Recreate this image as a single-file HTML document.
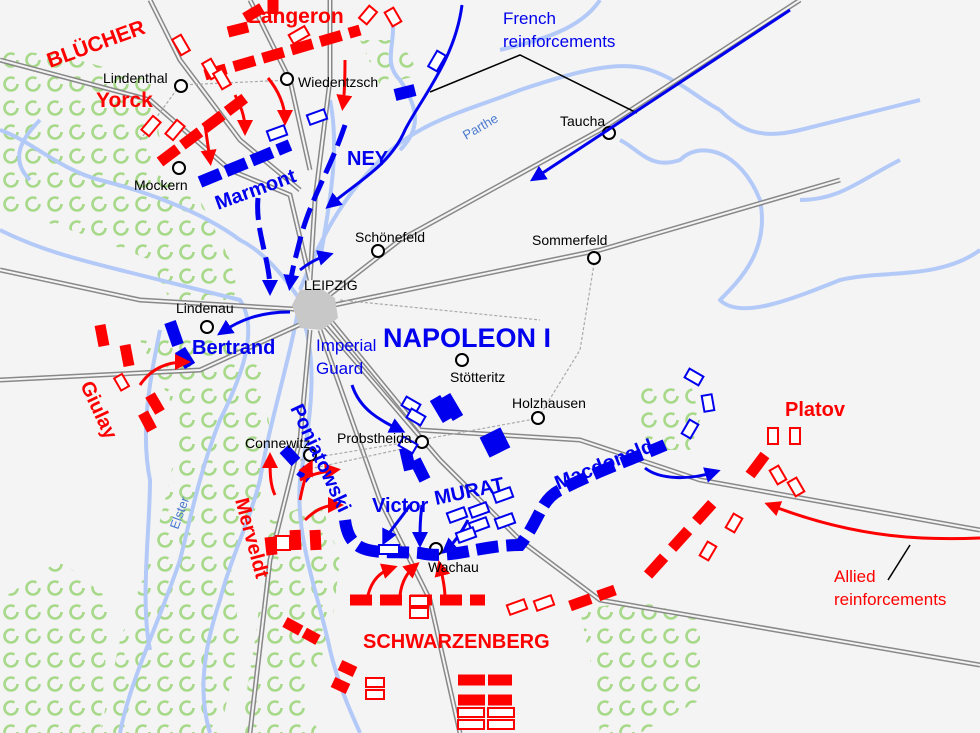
<!DOCTYPE html>
<html><head><meta charset="utf-8"><style>
html,body{margin:0;padding:0;background:#f4f4f4}
svg{display:block}
text{font-family:"Liberation Sans",sans-serif}
</style></head><body>
<svg width="980" height="733" viewBox="0 0 980 733" xmlns="http://www.w3.org/2000/svg">
<defs>
<pattern id="f" width="22" height="24" patternUnits="userSpaceOnUse">
<circle cx="11" cy="12" r="6.5" fill="none" stroke="#a8d98a" stroke-width="2.6" stroke-dasharray="34 7"/>
</pattern>
<marker id="ab" markerWidth="8" markerHeight="8" refX="5" refY="4" orient="auto" markerUnits="userSpaceOnUse" viewBox="0 0 8 8"><path d="M0,0 L8,4 L0,8z" fill="#0000ee"/></marker>
<marker id="ar" markerWidth="8" markerHeight="8" refX="5" refY="4" orient="auto" viewBox="0 0 8 8" markerUnits="userSpaceOnUse"><path d="M0,0 L8,4 L0,8z" fill="#ff0000"/></marker>
<marker id="abm" markerWidth="16" markerHeight="16" refX="10" refY="8" orient="auto" viewBox="0 0 16 16" markerUnits="userSpaceOnUse"><path d="M0,0 L16,8 L0,16z" fill="#0000ee"/></marker>
<marker id="arm" markerWidth="16" markerHeight="16" refX="10" refY="8" orient="auto" viewBox="0 0 16 16" markerUnits="userSpaceOnUse"><path d="M0,0 L16,8 L0,16z" fill="#ff0000"/></marker>
</defs>
<rect width="980" height="733" fill="#f4f4f4"/>
<!-- forests -->
<g fill="url(#f)">
<path d="M0,50 L60,55 L150,80 L160,140 L150,170 L200,200 L230,260 L240,300 L170,300 L150,260 L100,240 L40,220 L0,210Z"/>
<path d="M140,340 L200,330 L260,360 L270,430 L260,500 L230,560 L240,640 L220,733 L100,733 L120,640 L150,560 L170,480 L180,420Z"/>
<path d="M0,600 L60,560 L110,600 L100,733 L0,733Z"/>
<path d="M270,520 L320,500 L340,560 L330,640 L300,700 L320,733 L240,733 L255,640Z"/>
<path d="M580,610 L640,600 L700,620 L700,700 L640,733 L600,733 L590,660Z"/>
<path d="M640,380 L690,380 L700,420 L690,450 L650,450 L635,410Z"/>
<path d="M360,40 L400,40 L420,75 L380,85 Z"/>
</g>
<!-- rivers -->
<g fill="none" stroke="#b3c9f7" stroke-width="4" stroke-linejoin="round">
<path d="M0,230 C40,250 80,260 120,270 C160,280 200,290 240,300 C260,330 240,380 220,420 C200,470 190,520 180,560 C160,620 130,680 120,733"/>
<path d="M0,130 C30,140 60,170 100,180 C140,190 200,210 240,240 C260,250 280,270 300,300"/>
<path d="M40,120 C20,140 10,160 30,180"/>
<path d="M300,300 C290,360 270,420 260,480 C250,520 230,560 220,600 C200,660 200,700 210,733"/>
<path d="M300,310 C320,360 310,420 300,480 C295,540 320,600 330,650 C340,690 350,710 360,733"/>
<path d="M160,330 C150,380 140,430 150,480 C150,530 140,600 150,650"/>
<path d="M300,290 C320,240 340,200 380,160 C420,120 470,110 520,90 C580,70 620,60 650,70 C680,80 700,100 720,110"/>
<path d="M720,110 C740,130 760,140 800,130 C840,120 880,110 920,100"/>
<path d="M620,140 C640,150 650,170 680,160 C700,140 740,150 760,200 C770,250 740,280 720,300 C740,320 790,300 840,280 C880,270 940,280 980,250"/>
<path d="M800,200 C840,200 860,180 900,160"/>
<path d="M390,10 C400,40 380,60 400,80 C420,110 420,130 400,150"/>
<path d="M330,100 C340,150 330,200 320,260"/>
<path d="M600,0 C580,30 540,40 500,50"/>
</g>
<!-- roads -->
<g fill="none" stroke="#888" stroke-width="5">
<path d="M0,60 L150,100 L230,170 L290,195 L310,280"/>
<path d="M150,0 L180,60 L240,140 L300,190"/>
<path d="M250,0 L290,80 L310,170"/>
<path d="M330,0 L330,80 L315,200 L310,280"/>
<path d="M0,270 L140,300 L310,310"/>
<path d="M0,380 L200,370 L310,320"/>
<path d="M310,310 L400,240 L600,130 L800,0"/>
<path d="M310,310 L600,250 L840,180"/>
<path d="M320,320 L440,460 L520,540 L600,600 L980,665"/>
<path d="M330,320 L420,430 L580,440 L700,480 L980,530"/>
<path d="M310,330 L300,440 L270,560 L250,733"/>
<path d="M320,330 L380,500 L430,600 L460,733"/>
</g>
<g fill="none" stroke="#f4f4f4" stroke-width="2">
<path d="M0,60 L150,100 L230,170 L290,195 L310,280"/>
<path d="M150,0 L180,60 L240,140 L300,190"/>
<path d="M250,0 L290,80 L310,170"/>
<path d="M330,0 L330,80 L315,200 L310,280"/>
<path d="M0,270 L140,300 L310,310"/>
<path d="M0,380 L200,370 L310,320"/>
<path d="M310,310 L400,240 L600,130 L800,0"/>
<path d="M310,310 L600,250 L840,180"/>
<path d="M320,320 L440,460 L520,540 L600,600 L980,665"/>
<path d="M330,320 L420,430 L580,440 L700,480 L980,530"/>
<path d="M310,330 L300,440 L270,560 L250,733"/>
<path d="M320,330 L380,500 L430,600 L460,733"/>
</g>
<g fill="none" stroke="#aaa" stroke-width="1.2" stroke-dasharray="3 2">
<path d="M180,85 L290,80"/><path d="M180,85 L140,140"/>
<path d="M340,300 L540,320"/><path d="M595,258 L580,350 L540,415"/>
<path d="M300,460 L420,440 L540,418"/><path d="M305,470 L420,445"/>
</g>
<!-- Leipzig -->
<path d="M292,305 L300,290 L320,288 L335,298 L338,318 L322,330 L300,328Z" fill="#c8c8c8"/>
<!-- towns -->
<g fill="#fff" stroke="#000" stroke-width="2">
<circle cx="181" cy="86" r="6"/><circle cx="287" cy="79" r="6"/><circle cx="179" cy="168" r="6"/>
<circle cx="609" cy="133" r="6"/><circle cx="378" cy="251" r="6"/><circle cx="594" cy="258" r="6"/>
<circle cx="207" cy="327" r="6"/><circle cx="462" cy="360" r="6"/><circle cx="538" cy="418" r="6"/>
<circle cx="422" cy="442" r="6"/><circle cx="310" cy="455" r="6"/><circle cx="436" cy="549" r="6"/>
</g>
<!-- reinforcement lines -->
<g stroke="#000" stroke-width="1.5" fill="none"><path d="M430,92 L520,55 L637,113"/><path d="M888,580 L910,545"/></g>
<path d="M790,10 L535,178" stroke="#0000ee" stroke-width="3" marker-end="url(#abm)"/>
<path d="M980,538 C930,540 860,540 770,505" stroke="#ff0000" stroke-width="3" fill="none" marker-end="url(#arm)"/>
<!-- blue movements -->
<g stroke="#0000ee" fill="none" stroke-width="3">
<path d="M462,5 C455,60 420,100 405,130 C390,165 360,180 330,205" marker-end="url(#abm)"/>
<path d="M345,125 C330,170 310,200 300,240 C295,260 292,270 290,285" stroke-width="5" stroke-dasharray="22 8" marker-end="url(#abm)"/>
<path d="M258,198 C255,230 270,260 270,290" stroke-width="5" stroke-dasharray="22 8" marker-end="url(#abm)"/>
<path d="M300,270 C310,262 318,258 328,255" marker-end="url(#abm)"/>
<path d="M290,312 C260,312 240,320 222,332" marker-end="url(#abm)"/>
<path d="M352,385 C360,410 380,420 400,430" marker-end="url(#abm)"/>
<path d="M410,505 C400,520 390,530 385,540" marker-end="url(#abm)"/>
<path d="M422,505 C420,520 420,530 420,542" marker-end="url(#abm)"/>
<path d="M468,520 C460,535 452,545 446,550" marker-end="url(#abm)"/>
<path d="M645,468 C660,480 690,480 715,472" marker-end="url(#abm)"/>
</g>
<!-- blue solid units (dashed thick lines) -->
<g stroke="#0000ee" fill="none" stroke-width="12">
<path d="M200,182 L290,145" stroke-dasharray="22 6"/>
<path d="M395,95 L415,90"/>
<path d="M170,322 L178,345" /><path d="M180,350 L190,366"/>
<path d="M284,449 L296,462"/><path d="M300,470 L310,478"/>
<path d="M345,520 C350,560 380,550 420,553 C450,560 480,545 520,545 C540,520 540,500 560,490 C600,470 630,460 665,445" stroke-dasharray="22 8"/>
<path d="M435,398 L448,420"/><path d="M445,396 L458,418"/>
<path d="M485,435 L495,455"/><path d="M495,430 L505,450"/>
<path d="M405,448 L410,470"/><path d="M415,460 L425,480"/>
</g>
<!-- blue outlined units -->
<g stroke="#0000ee" fill="#fff" stroke-width="2">
<rect x="268" y="128" width="18" height="10" transform="rotate(-20 277 133)"/>
<rect x="308" y="112" width="18" height="10" transform="rotate(-20 317 117)"/>
<rect x="428" y="56" width="18" height="10" transform="rotate(-60 437 61)"/>
<rect x="403" y="400" width="16" height="10" transform="rotate(30 411 405)"/>
<rect x="408" y="412" width="16" height="10" transform="rotate(30 416 417)"/>
<rect x="400" y="440" width="16" height="10" transform="rotate(30 408 445)"/>
<rect x="448" y="510" width="18" height="10" transform="rotate(-20 457 515)"/>
<rect x="470" y="505" width="18" height="10" transform="rotate(-20 479 510)"/>
<rect x="494" y="490" width="18" height="10" transform="rotate(-20 503 495)"/>
<rect x="470" y="520" width="18" height="10" transform="rotate(-20 479 525)"/>
<rect x="496" y="516" width="18" height="10" transform="rotate(-20 505 521)"/>
<rect x="457" y="530" width="18" height="10" transform="rotate(-20 466 535)"/>
<rect x="379" y="545" width="20" height="9"/>
<rect x="686" y="372" width="16" height="10" transform="rotate(30 694 377)"/>
<rect x="700" y="398" width="16" height="10" transform="rotate(80 708 403)"/>
<rect x="682" y="424" width="16" height="10" transform="rotate(-60 690 429)"/>
</g>
<!-- red movements -->
<g stroke="#ff0000" fill="none" stroke-width="3">
<path d="M235,95 C240,105 245,115 245,130" marker-end="url(#arm)"/>
<path d="M268,78 C278,90 285,105 285,120" marker-end="url(#arm)"/>
<path d="M345,60 C345,75 345,90 343,105" marker-end="url(#arm)"/>
<path d="M205,125 L210,160" marker-end="url(#arm)"/>
<path d="M140,385 C150,370 165,362 185,362" marker-end="url(#arm)"/>
<path d="M275,495 C270,485 270,472 270,458" marker-end="url(#arm)"/>
<path d="M300,500 C302,490 305,475 310,465" marker-end="url(#arm)"/>
<path d="M300,480 C310,475 320,472 335,470" marker-end="url(#arm)"/>
<path d="M305,520 C315,510 325,505 338,505" marker-end="url(#arm)"/>
<path d="M368,595 C372,580 380,572 392,568" marker-end="url(#arm)"/>
<path d="M400,595 C402,580 408,572 415,566" marker-end="url(#arm)"/>
<path d="M445,598 C445,588 443,578 440,566" marker-end="url(#arm)"/>
</g>
<!-- red solid units -->
<g stroke="#ff0000" fill="none" stroke-width="11">
<path d="M160,162 L245,98" stroke-dasharray="22 6"/>
<path d="M205,75 L360,30" stroke-dasharray="22 8"/>
<path d="M228,32 L248,27"/><path d="M245,18 L262,8"/><path d="M273,0 L273,14"/>
<path d="M100,325 L104,346"/><path d="M125,345 L129,366"/><path d="M150,395 L160,412"/><path d="M143,413 L152,430"/>
<path d="M270,537 L272,555"/><path d="M295,530 L296,550"/><path d="M315,530 L316,550"/>
<path d="M350,600 L485,600" stroke-dasharray="22 8"/>
<path d="M570,606 L615,590" stroke-dasharray="22 8"/>
<path d="M648,575 L720,495" stroke-dasharray="24 12"/>
<path d="M750,475 L765,455"/>
<path d="M285,622 L318,640" stroke-dasharray="18 4"/>
<path d="M340,665 L355,672"/><path d="M333,682 L348,689"/>
<path d="M458,680 L485,680"/><path d="M488,680 L512,680"/><path d="M458,700 L485,700"/><path d="M488,700 L512,700"/>
</g>
<!-- red outlined units -->
<g stroke="#ff0000" fill="#fff" stroke-width="2">
<rect x="172" y="40" width="18" height="10" transform="rotate(60 181 45)"/>
<rect x="202" y="64" width="18" height="10" transform="rotate(60 211 69)"/>
<rect x="213" y="74" width="18" height="10" transform="rotate(60 222 79)"/>
<rect x="142" y="121" width="18" height="10" transform="rotate(-50 151 126)"/>
<rect x="166" y="125" width="18" height="10" transform="rotate(-50 175 130)"/>
<rect x="290" y="30" width="18" height="10" transform="rotate(-30 299 35)"/>
<rect x="360" y="10" width="16" height="10" transform="rotate(-50 368 15)"/>
<rect x="385" y="12" width="16" height="10" transform="rotate(60 393 17)"/>
<rect x="115" y="378" width="14" height="9" transform="rotate(60 122 382)"/>
<rect x="276" y="536" width="14" height="14"/>
<rect x="410" y="596" width="18" height="10"/><rect x="410" y="608" width="18" height="10"/>
<rect x="508" y="602" width="18" height="10" transform="rotate(-20 517 607)"/>
<rect x="535" y="598" width="18" height="10" transform="rotate(-20 544 603)"/>
<rect x="768" y="428" width="10" height="16"/><rect x="790" y="428" width="10" height="16"/>
<rect x="770" y="470" width="16" height="10" transform="rotate(60 778 475)"/>
<rect x="788" y="482" width="16" height="10" transform="rotate(60 796 487)"/>
<rect x="726" y="518" width="16" height="10" transform="rotate(-60 734 523)"/>
<rect x="700" y="546" width="16" height="10" transform="rotate(-60 708 551)"/>
<rect x="366" y="678" width="18" height="9"/><rect x="366" y="690" width="18" height="9"/>
<rect x="458" y="708" width="26" height="9"/><rect x="488" y="708" width="26" height="9"/>
<rect x="458" y="720" width="26" height="9"/><rect x="488" y="720" width="26" height="9"/>
</g>
<!-- labels -->
<g font-size="14" fill="#000">
<text x="103" y="83">Lindenthal</text>
<text x="298" y="87">Wiedentzsch</text>
<text x="134" y="190">Mockern</text>
<text x="560" y="126">Taucha</text>
<text x="355" y="242">Schönefeld</text>
<text x="532" y="245">Sommerfeld</text>
<text x="304" y="290">LEIPZIG</text>
<text x="176" y="313">Lindenau</text>
<text x="450" y="382">Stötteritz</text>
<text x="512" y="408">Holzhausen</text>
<text x="337" y="443">Probstheida</text>
<text x="245" y="448">Connewitz</text>
<text x="428" y="572">Wachau</text>
</g>
<g font-size="17" fill="#0000ee">
<text x="503" y="24">French</text><text x="503" y="47">reinforcements</text>
<text x="316" y="351">Imperial</text><text x="316" y="374">Guard</text>
</g>
<g font-size="17" fill="#ff0000">
<text x="834" y="582">Allied</text><text x="834" y="605">reinforcements</text>
</g>
<text x="466" y="140" font-size="13" fill="#4a7ad0" transform="rotate(-30 466 140)">Parthe</text>
<text x="178" y="530" font-size="13" fill="#4a7ad0" transform="rotate(-70 178 530)">Elster</text>
<g font-weight="bold" fill="#ff0000">
<text x="50" y="68" font-size="21" transform="rotate(-20 50 68)">BLÜCHER</text>
<text x="248" y="23" font-size="21">Langeron</text>
<text x="96" y="107" font-size="21">Yorck</text>
<text x="785" y="416" font-size="20">Platov</text>
<text x="363" y="648" font-size="20">SCHWARZENBERG</text>
<text x="80" y="385" font-size="20" transform="rotate(65 80 385)">Giulay</text>
<text x="235" y="500" font-size="20" transform="rotate(75 235 500)">Merveldt</text>
</g>
<g font-weight="bold" fill="#0000ee">
<text x="347" y="165" font-size="20">NEY</text>
<text x="218" y="210" font-size="20" transform="rotate(-20 218 210)">Marmont</text>
<text x="192" y="354" font-size="20">Bertrand</text>
<text x="383" y="347" font-size="27">NAPOLEON I</text>
<text x="290" y="408" font-size="20" transform="rotate(65 290 408)">Poniatowski</text>
<text x="372" y="512" font-size="20">Victor</text>
<text x="436" y="505" font-size="20" transform="rotate(-12 436 505)">MURAT</text>
<text x="558" y="490" font-size="20" transform="rotate(-22 558 490)">Macdonald</text>
</g>
</svg>
</body></html>
